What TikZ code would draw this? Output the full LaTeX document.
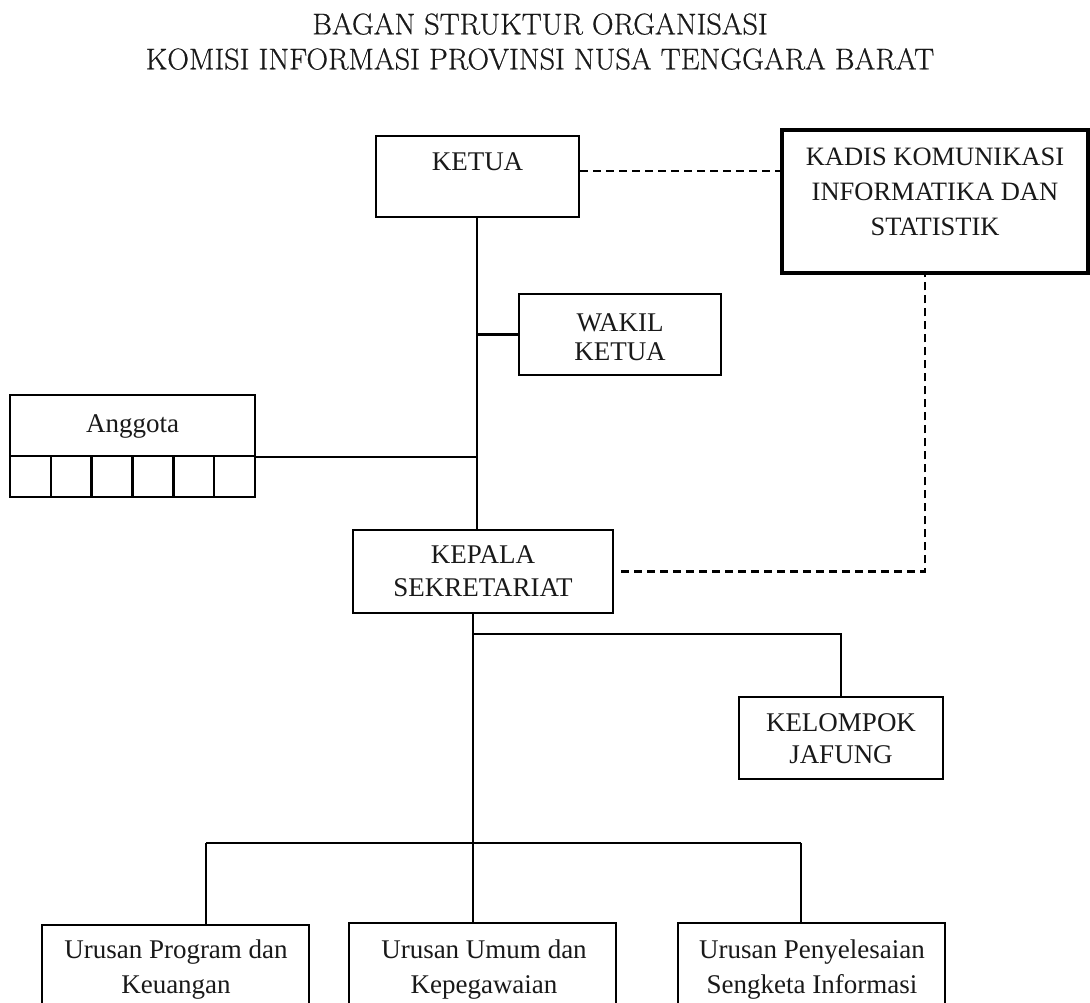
\documentclass[tikz,border=0pt]{standalone}
\usepackage{fontspec}
\newfontfamily\tnr{Liberation Serif}
\newfontfamily\ttlfont{Latin Modern Roman}[FakeBold=0.6]
\usetikzlibrary{calc}
\begin{document}
\begin{tikzpicture}[x=1pt,y=-1pt,
  box/.style={draw, line width=2.4pt, inner sep=0pt, rectangle},
  conn/.style={line width=2.2pt},
  dline/.style={line width=2.4pt, dash pattern=on 8pt off 5pt},
  txt/.style={font=\tnr\fontsize{27}{33}\selectfont, align=center, inner sep=0pt, text=black!90},
  ttl/.style={font=\ttlfont\fontsize{30}{34}\selectfont, inner sep=0pt, text=black!90}]
\useasboundingbox (0,0) rectangle (1090,1002);
\fill[white] (0,0) rectangle (1090,1002);

% title
\node[ttl] (t1) at (540,24) {BAGAN STRUKTUR ORGANISASI};
\node[ttl] (t2) at (540,59) {KOMISI INFORMASI PROVINSI NUSA TENGGARA BARAT};

% boxes
\node[box, minimum width=203pt, minimum height=81pt] (ketua) at (477.5,176.5) {};
\node[box, line width=3.2pt, minimum width=306pt, minimum height=143pt] (kadis) at (935,201.5) {};
\node[box, minimum width=202pt, minimum height=81pt] (wakil) at (620,334.5) {};
\node[box, minimum width=245pt, minimum height=61pt] (anggota) at (132.5,425.5) {};
\foreach \i in {1,...,6}{
  \node[box, minimum width=40.83pt, minimum height=41pt] (c\i) at ({10+40.83*(\i-0.5)},476.5) {};
}
\node[box, minimum width=260pt, minimum height=83pt] (kepala) at (483,571.5) {};
\node[box, minimum width=204pt, minimum height=82pt] (kelompok) at (841,738) {};
\begin{scope}
\clip (0,0) rectangle (1090,1002);
\node[box, anchor=north, minimum width=267pt, minimum height=95pt] (u1) at (175.5,924) {};
\node[box, anchor=north, minimum width=267pt, minimum height=95pt] (u2) at (482.5,922) {};
\node[box, anchor=north, minimum width=267pt, minimum height=95pt] (u3) at (811.5,922) {};
\end{scope}

% texts
\node[txt] (ketuaT) at (477.5,162) {KETUA};
\node[txt, font=\tnr\fontsize{26.5}{35}\selectfont] (kadisT) at (935,192) {KADIS KOMUNIKASI\\INFORMATIKA DAN\\STATISTIK};
\node[txt, font=\tnr\fontsize{27}{29}\selectfont] (wakilT) at (620,337.5) {WAKIL\\KETUA};
\node[txt] (anggotaT) at (132.5,426) {Anggota};
\node[txt] (kepalaT) at (483,571.5) {KEPALA\\SEKRETARIAT};
\node[txt, font=\tnr\fontsize{27}{32}\selectfont] (kelompokT) at (841,739) {KELOMPOK\\JAFUNG};
\node[txt, font=\tnr\fontsize{27}{35}\selectfont] (u1T) at (176,970) {Urusan Program dan\\Keuangan};
\node[txt, font=\tnr\fontsize{27}{35}\selectfont] (u2T) at (484,970) {Urusan Umum dan\\Kepegawaian};
\node[txt, font=\tnr\fontsize{27}{35}\selectfont] (u3T) at (812,970) {Urusan Penyelesaian\\Sengketa Informasi};

% connectors
\coordinate (d1) at ($(ketua.east)+(0,-5.5)$);
\draw[dline] (d1) -- (d1 -| kadis.west);
\coordinate (kt) at (477,217);
\draw[conn] (ketua.south -| kt) -- (kt |- kepala.north);
\draw[conn] (wakil.west) -- (wakil.west -| kt);
\draw[conn] (anggota.south east) -- (anggota.south east -| kt);

\coordinate (kd) at (925,571.5);
\draw[dline] ([xshift=7pt]kepala.east) -- (kd) -- (kd |- kadis.south);

\coordinate (j1) at (473,634);
\coordinate (j2) at (473,843);
\draw[conn] (kepala.south -| j1) -- (j2);
\draw[conn] (j1) -| (kelompok.north);

\coordinate (b1) at (206,843);
\coordinate (b3) at (801,843);
\draw[conn] (b1) -- (b3);
\draw[conn] (b1) -- (b1 |- u1.north);
\draw[conn] (j2) -- (j2 |- u2.north);
\draw[conn] (b3) -- (b3 |- u3.north);
\end{tikzpicture}
\end{document}
